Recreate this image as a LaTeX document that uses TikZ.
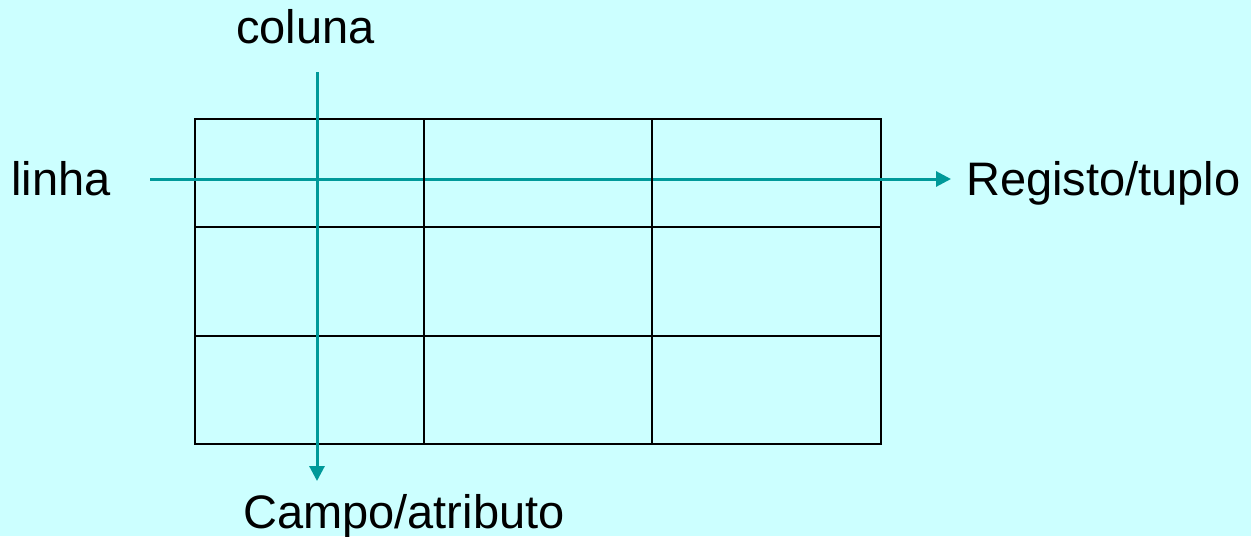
\documentclass[tikz,border=0pt]{standalone}
\usepackage{fontspec}
\setmainfont{Liberation Sans}
\usetikzlibrary{arrows.meta}
\definecolor{bgcyan}{HTML}{CCFFFF}
\definecolor{arrteal}{HTML}{009999}
\tikzset{
  lbl/.style={inner sep=0pt, anchor=base west, font=\fontsize{47}{56}\selectfont},
  arr/.style={draw=arrteal, line width=3pt, -{Triangle[length=15pt,width=15pt]}},
  grid/.style={draw=black, line width=1.5pt},
  colsep/.style={draw=black, line width=2.5pt}
}
\begin{document}
\begin{tikzpicture}[x=1pt,y=-1pt]
\fill[bgcyan] (0,0) rectangle (1251,536);
\useasboundingbox (0,0) rectangle (1251,536);
% table
\draw[grid] (195,119) rectangle (881,444);
\draw[grid] (195,227) -- (881,227);
\draw[grid] (195,336) -- (881,336);
% arrows
\coordinate (hs) at (150,179);
\coordinate (he) at (951,179);
\coordinate (vs) at (317,72);
\coordinate (ve) at (317,481);
\draw[arr] (hs) -- (he);
\draw[arr] (vs) -- (ve);
\draw[colsep] (424,119) -- (424,444);
\draw[colsep] (652,119) -- (652,444);
% labels
\node[lbl] (coluna) at (236,43) {coluna};
\node[lbl] (linha) at (11,195) {linha};
\node[lbl] (reg) at (966,195) {Registo/tuplo};
\node[lbl] (campo) at (243,528) {Campo/atributo};
\end{tikzpicture}
\end{document}
